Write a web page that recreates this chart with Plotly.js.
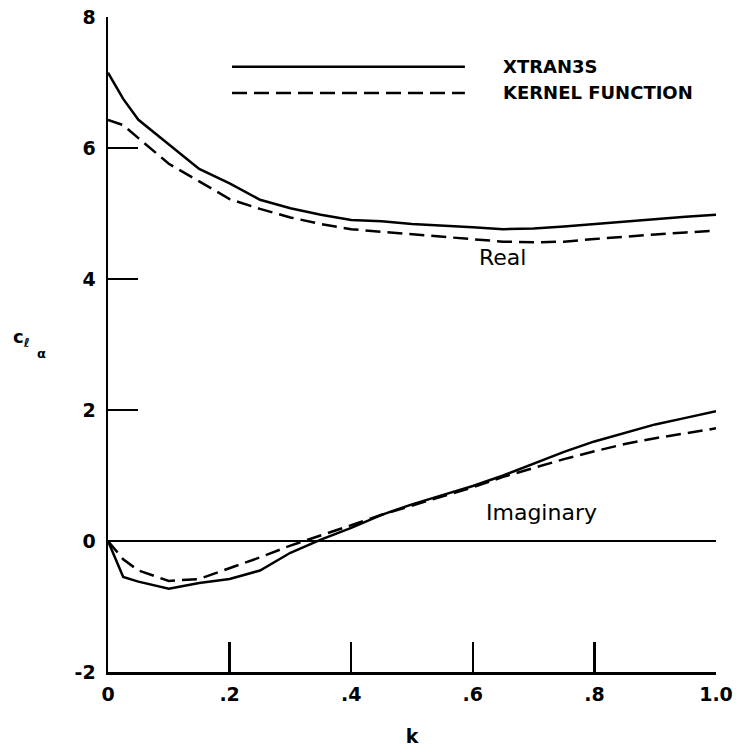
<!DOCTYPE html>
<html>
<head>
<meta charset="utf-8">
<script src="https://cdn.plot.ly/plotly-3.0.1.min.js"></script>
<style>html,body{margin:0;padding:0;background:#fff;}#chart{width:736px;height:747px;}</style>
</head>
<body>
<div id="chart"></div>
<script>
const k = [0, 0.025, 0.05, 0.1, 0.15, 0.2, 0.25, 0.3, 0.35, 0.4, 0.45, 0.5, 0.55, 0.6, 0.65, 0.7, 0.75, 0.8, 0.85, 0.9, 0.95, 1.0];
const realXtran = [7.15, 6.75, 6.43, 6.05, 5.68, 5.46, 5.21, 5.08, 4.98, 4.90, 4.88, 4.84, 4.82, 4.79, 4.76, 4.77, 4.80, 4.84, 4.88, 4.92, 4.95, 4.98];
const realKernel = [6.43, 6.35, 6.15, 5.76, 5.49, 5.22, 5.07, 4.94, 4.84, 4.76, 4.72, 4.68, 4.64, 4.60, 4.57, 4.56, 4.57, 4.61, 4.65, 4.68, 4.71, 4.74];
const imagXtran = [0, -0.55, -0.62, -0.73, -0.64, -0.58, -0.45, -0.18, 0.02, 0.20, 0.40, 0.56, 0.70, 0.84, 1.00, 1.18, 1.36, 1.52, 1.65, 1.78, 1.88, 1.98];
const imagKernel = [0, -0.28, -0.45, -0.61, -0.58, -0.42, -0.25, -0.07, 0.08, 0.24, 0.40, 0.54, 0.68, 0.82, 0.98, 1.12, 1.25, 1.37, 1.48, 1.57, 1.65, 1.72];
const xTickVals = [0, 0.2, 0.4, 0.6, 0.8, 1.0];
const xTickText = ['0', '.2', '.4', '.6', '.8', '1.0'];
const yTickVals = [-2, 0, 2, 4, 6, 8];
const yTickText = ['-2', '0', '2', '4', '6', '8'];
const seriesNames = ['XTRAN3S', 'KERNEL FUNCTION'];

const FONT = 'DejaVu Sans, Liberation Sans, sans-serif';
const solid = {color: '#000', width: 2.5, dash: 'solid'};
const dashed = {color: '#000', width: 2.5, dash: '15px,7px'};

const traces = [
  {x: k, y: realXtran, mode: 'lines', line: solid, name: seriesNames[0]},
  {x: k, y: realKernel, mode: 'lines', line: dashed, name: seriesNames[1]},
  {x: k, y: imagXtran, mode: 'lines', line: solid, name: seriesNames[0]},
  {x: k, y: imagKernel, mode: 'lines', line: dashed, name: seriesNames[1]}
];

const tickFont = {family: FONT, size: 19, color: '#000', weight: 'bold'};

const layout = {
  width: 736, height: 747,
  margin: {l: 108, r: 20, t: 17, b: 75},
  paper_bgcolor: '#fff', plot_bgcolor: '#fff',
  showlegend: false,
  font: {family: FONT, color: '#000'},
  xaxis: {
    range: [0, 1], showgrid: false, zeroline: false,
    showline: true, linecolor: '#000', linewidth: 2.5,
    ticks: 'inside', ticklen: 30, tickwidth: 2.5, tickcolor: '#000',
    tickvals: xTickVals, ticktext: xTickText,
    tickfont: tickFont, ticklabelstandoff: 4,
    title: {text: 'k', font: {family: FONT, size: 19, color: '#000', weight: 'bold'}, standoff: 28}
  },
  yaxis: {
    range: [-2, 8], showgrid: false,
    zeroline: true, zerolinecolor: '#000', zerolinewidth: 2.5,
    showline: true, linecolor: '#000', linewidth: 2.5,
    ticks: 'inside', ticklen: 30, tickwidth: 2.5, tickcolor: '#000',
    tickvals: yTickVals, ticktext: yTickText,
    tickfont: tickFont, ticklabelstandoff: 6
  },
  shapes: [
    {type: 'line', xref: 'x', yref: 'y', x0: 0.204, x1: 0.587, y0: 7.24, y1: 7.24, line: solid},
    {type: 'line', xref: 'x', yref: 'y', x0: 0.204, x1: 0.587, y0: 6.84, y1: 6.84, line: dashed}
  ],
  annotations: [
    {xref: 'x', yref: 'y', x: 0.647, y: 7.24, text: seriesNames[0], showarrow: false, xanchor: 'left', font: {family: FONT, size: 18, weight: 'bold'}},
    {xref: 'x', yref: 'y', x: 0.647, y: 6.84, text: seriesNames[1], showarrow: false, xanchor: 'left', font: {family: FONT, size: 18, weight: 'bold'}},
    {xref: 'x', yref: 'y', x: 0.649, y: 4.33, text: 'Real', showarrow: false, font: {family: FONT, size: 22}},
    {xref: 'x', yref: 'y', x: 0.713, y: 0.44, text: 'Imaginary', showarrow: false, font: {family: FONT, size: 22}},
    {xref: 'paper', yref: 'paper', x: -0.16, y: 0.51, text: 'c<sub>ℓ</sub>', showarrow: false, xanchor: 'left', font: {family: FONT, size: 18, weight: 'bold'}},
    {xref: 'paper', yref: 'paper', x: -0.12, y: 0.487, text: 'α', showarrow: false, xanchor: 'left', font: {family: FONT, size: 13, weight: 'bold'}}
  ]
};

Plotly.newPlot('chart', traces, layout, {displayModeBar: false, staticPlot: true});
</script>
</body>
</html>
